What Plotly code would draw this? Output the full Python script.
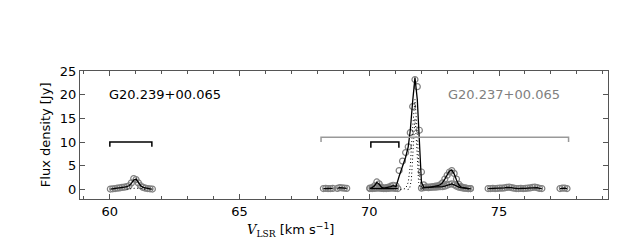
import plotly.graph_objects as go

# ---------------- data ----------------
# G20.239+00.065 spectrum (60-62 km/s)
v1a = [60.02, 60.11, 60.20, 60.29, 60.38, 60.47, 60.56, 60.65, 60.74, 60.83,
       60.92, 61.01, 61.10, 61.19, 61.28, 61.37, 61.46, 61.55, 61.64]
f1a = [0.1, 0.15, 0.2, 0.3, 0.35, 0.45, 0.5, 0.6, 0.8, 1.4,
       2.3, 2.1, 1.4, 0.8, 0.45, 0.3, 0.2, 0.15, 0.1]
m1a = [0.1, 0.15, 0.2, 0.3, 0.35, 0.4, 0.5, 0.6, 0.8, 1.3,
       2.0, 2.2, 1.5, 0.8, 0.45, 0.3, 0.2, 0.15, 0.1]
d1a_v = [60.65, 60.83, 60.92, 61.01, 61.19, 61.37]
d1a_f = [0.05, 0.2, 0.3, 0.3, 0.2, 0.05]

# G20.237+00.065 spectrum, small segments
v2a = [68.23, 68.32, 68.41, 68.50, 68.59]
f2a = [0.2, 0.25, 0.2, 0.2, 0.25]
v2b = [68.77, 68.86, 68.95, 69.04, 69.13]
f2b = [0.25, 0.4, 0.35, 0.3, 0.25]

# main segment 70-74 km/s
v2c = [70.02, 70.11, 70.2, 70.29, 70.38, 70.47, 70.56, 70.65, 70.74, 70.83,
       70.92, 71.03, 71.15, 71.28, 71.4, 71.5, 71.58, 71.67, 71.76, 71.85,
       71.93, 72.01, 72.1, 72.19, 72.28, 72.37, 72.46, 72.55, 72.64, 72.73,
       72.82, 72.91, 73.0, 73.09, 73.18, 73.27, 73.36, 73.45, 73.54, 73.63,
       73.72, 73.81, 73.9]
f2c = [0.3, 0.4, 0.8, 1.6, 1.2, 0.5, 0.3, 0.4, 0.5, 0.7,
       0.9, 0.8, 4.0, 6.0, 7.8, 9.0, 12.0, 17.5, 23.2, 21.7,
       12.5, 3.7, 1.0, 0.5, 0.4, 0.5, 0.6, 0.7, 0.8, 1.0,
       1.4, 2.2, 3.0, 3.7, 4.0, 3.4, 2.2, 1.1, 0.6, 0.4,
       0.3, 0.2, 0.2]
m2c = [0.3, 0.4, 0.8, 1.5, 1.1, 0.5, 0.3, 0.35, 0.45, 0.6,
       0.8, 0.6, 2.8, 4.8, 6.8, 9.0, 12.5, 18.5, 23.6, 19.0,
       8.5, 1.5, 0.5, 0.4, 0.4, 0.5, 0.55, 0.65, 0.8, 1.0,
       1.4, 2.2, 3.1, 3.9, 4.1, 3.3, 2.0, 1.0, 0.5, 0.35,
       0.25, 0.2, 0.2]

# lower spectrum row in the 70-74 km/s region
vB1 = [70.02, 70.11, 70.2, 70.29, 70.38, 70.47, 70.56, 70.65, 70.74, 70.83,
       70.92, 71.01, 71.1]
fB1 = [0.2, 0.2, 0.25, 0.3, 0.3, 0.25, 0.2, 0.2, 0.25, 0.3, 0.3, 0.25, 0.2]
vB2 = [72.01, 72.1, 72.19, 72.28, 72.37, 72.46, 72.55, 72.64, 72.73, 72.82,
       72.91, 73.0, 73.09, 73.18, 73.27, 73.36, 73.45, 73.54, 73.63, 73.72,
       73.81, 73.9]
fB2 = [0.3, 0.4, 0.5, 0.5, 0.5, 0.5, 0.5, 0.55, 0.6, 0.6,
       0.7, 0.9, 1.1, 1.2, 1.0, 0.7, 0.5, 0.4, 0.3, 0.3,
       0.2, 0.2]

v2d = [74.58, 74.67, 74.76, 74.85, 74.94, 75.03, 75.12, 75.21, 75.3, 75.39,
       75.48, 75.57, 75.66, 75.75, 75.84, 75.93, 76.02, 76.11, 76.2, 76.29,
       76.38, 76.47, 76.56, 76.65]
f2d = [0.2, 0.2, 0.25, 0.2, 0.25, 0.3, 0.3, 0.35, 0.45, 0.5,
       0.4, 0.3, 0.2, 0.2, 0.25, 0.2, 0.25, 0.3, 0.35, 0.45,
       0.5, 0.4, 0.25, 0.2]
v2e = [77.35, 77.44, 77.53, 77.62]
f2e = [0.2, 0.3, 0.3, 0.2]

# Gaussian components (dotted)
dA_v = [71.2, 71.4, 71.5, 71.58, 71.67, 71.76, 71.85, 71.93, 72.01, 72.1]
dA_f = [0.0, 0.2, 1.5, 5.0, 13.0, 19.0, 12.0, 3.0, 0.3, 0.0]
dB_v = [71.48, 71.55, 71.62, 71.69, 71.76, 71.83, 71.9, 71.97, 72.04]
dB_f = [0.0, 0.1, 2.0, 9.0, 15.0, 9.0, 1.5, 0.1, 0.0]

# velocity ranges (brackets)
br_start = [60.0, 70.06, 68.14]
br_end = [61.62, 71.14, 77.68]
br_level = [10.0, 10.0, 11.0]
br_drop = [1.0, 1.2, 1.0]
br_color = ["black", "black", "#999999"]

labels = ["G20.239+00.065", "G20.237+00.065"]
label_colors = ["black", "#808080"]

# ---------------- figure ----------------
def join(segs):
    xs, ys = [], []
    for x, y in segs:
        if xs:
            xs.append(None)
            ys.append(None)
        xs += list(x)
        ys += list(y)
    return xs, ys

fig = go.Figure()

cx, cy = join([(v1a, f1a), (v2a, f2a), (v2b, f2b), (v2c, f2c), (vB1, fB1),
               (vB2, fB2), (v2d, f2d), (v2e, f2e)])
fig.add_trace(go.Scatter(x=cx, y=cy, mode="markers",
                         marker=dict(symbol="circle-open", size=6,
                                     color="#808080", line=dict(width=1.2))))

lx, ly = join([(v1a, m1a), (v2a, f2a), (v2b, f2b), (v2c, m2c), (vB1, fB1),
               (vB2, fB2), (v2d, f2d), (v2e, f2e)])
fig.add_trace(go.Scatter(x=lx, y=ly, mode="lines",
                         line=dict(color="black", width=1.3)))

dx, dy = join([(d1a_v, d1a_f), (dA_v, dA_f), (dB_v, dB_f)])
fig.add_trace(go.Scatter(x=dx, y=dy, mode="lines",
                         line=dict(color="black", width=1.0, dash="1px,2.5px")))

for x0, x1, yl, dr, col in zip(br_start, br_end, br_level, br_drop, br_color):
    fig.add_trace(go.Scatter(x=[x0, x0, x1, x1], y=[yl - dr, yl, yl, yl - dr],
                             mode="lines", line=dict(color=col, width=1.5)))

font = "DejaVu Sans"
fig.add_annotation(x=59.88, y=20, xref="x", yref="y", text=labels[0],
                   showarrow=False, xanchor="left", yanchor="middle",
                   font=dict(family=font, size=13, color=label_colors[0]))
fig.add_annotation(x=77.42, y=20, xref="x", yref="y", text=labels[1],
                   showarrow=False, xanchor="right", yanchor="middle",
                   font=dict(family=font, size=13, color=label_colors[1]))

fig.add_annotation(x=0.398, y=-0.245, xref="paper", yref="paper",
                   text="<i><span style='font-family:DejaVu Serif'>V</span></i>"
                        "<sub><span style='font-family:DejaVu Serif'>LSR</span></sub>"
                        " [km s<sup>\u22121</sup>]",
                   showarrow=False, xanchor="center", yanchor="middle",
                   font=dict(family=font, size=13, color="black"))
fig.add_annotation(x=-0.066, y=0.5, xref="paper", yref="paper",
                   text="Flux density [Jy]", textangle=-90,
                   showarrow=False, xanchor="center", yanchor="middle",
                   font=dict(family=font, size=13, color="black"))

axis_common = dict(showline=True, linecolor="#555555", linewidth=1.3,
                   mirror="ticks", ticks="inside", ticklen=5, tickcolor="#555555",
                   showgrid=False, zeroline=False,
                   tickfont=dict(family=font, size=13, color="black"))
fig.update_xaxes(range=[58.85, 79.2], dtick=5, tick0=0,
                 minor=dict(dtick=1, ticks="inside", ticklen=3, tickcolor="#555555"),
                 **axis_common)
fig.update_yaxes(range=[-2, 25], dtick=5, tick0=0, **axis_common)

fig.update_layout(width=640, height=240, showlegend=False,
                  margin=dict(l=80, r=32, t=71, b=41),
                  plot_bgcolor="white", paper_bgcolor="white")

fig.write_html("out.html",
               config={"displayModeBar": False},
               post_script="document.body.style.margin='0px';"
                           "document.body.style.overflow='hidden';")
